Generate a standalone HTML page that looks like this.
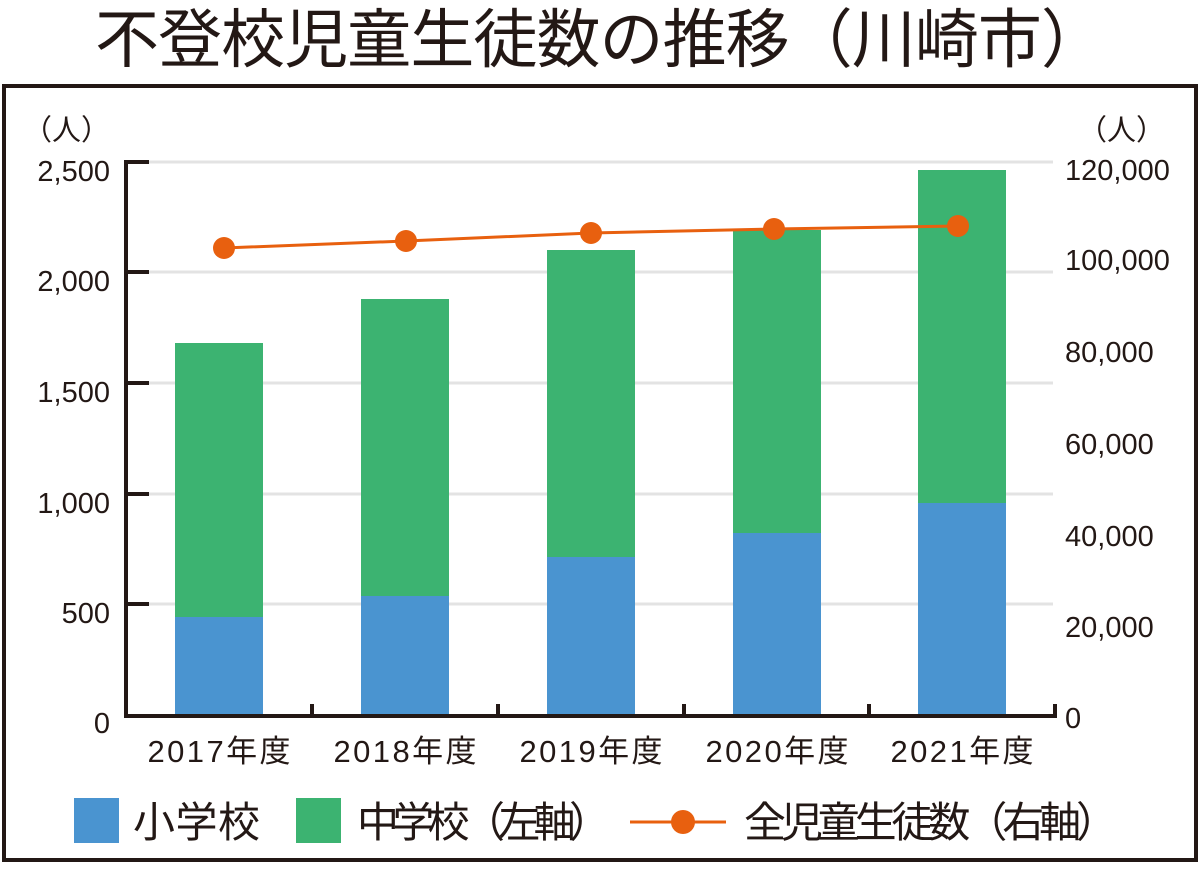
<!DOCTYPE html>
<html><head><meta charset="utf-8"><style>
body{margin:0;background:#fff;width:1200px;height:864px;overflow:hidden}
text{font-family:"Liberation Sans","Noto Sans CJK JP",sans-serif;fill:#231815}
</style></head><body>
<svg width="1200" height="864" viewBox="0 0 1200 864">
<text x="600" y="62" font-size="64" text-anchor="middle" textLength="1010" font-weight="normal">不登校児童生徒数の推移（川崎市）</text>
<rect x="4" y="86" width="1192" height="774" fill="none" stroke="#231815" stroke-width="4"/>
<g stroke="#e3e3e3" stroke-width="3">
<line x1="149" y1="162" x2="1053" y2="162"/><line x1="149" y1="272" x2="1053" y2="272"/>
<line x1="149" y1="383" x2="1053" y2="383"/><line x1="149" y1="494" x2="1053" y2="494"/>
<line x1="149" y1="604" x2="1053" y2="604"/>
</g>
<g fill="#4a94d0">
<rect x="175" y="617" width="88" height="98"/><rect x="361" y="596" width="88" height="119"/>
<rect x="547" y="557" width="88" height="158"/><rect x="733" y="533" width="88" height="182"/>
<rect x="918" y="503" width="88" height="212"/>
</g>
<g fill="#3cb371">
<rect x="175" y="343" width="88" height="274"/><rect x="361" y="299" width="88" height="297"/>
<rect x="547" y="250" width="88" height="307"/><rect x="733" y="230" width="88" height="303"/>
<rect x="918" y="170" width="88" height="333"/>
</g>
<g stroke="#231815" stroke-width="4" fill="none">
<polyline points="149,162 126,162 126,716 1055,716 1055,704"/>
<line x1="126" y1="272" x2="149" y2="272"/><line x1="126" y1="383" x2="149" y2="383"/>
<line x1="126" y1="494" x2="149" y2="494"/><line x1="126" y1="604" x2="149" y2="604"/>
<line x1="312" y1="716" x2="312" y2="704"/><line x1="498" y1="716" x2="498" y2="704"/>
<line x1="684" y1="716" x2="684" y2="704"/><line x1="869" y1="716" x2="869" y2="704"/>
</g>
<polyline points="224,248 406,241 591,233 774,229 958,226" fill="none" stroke="#e8600f" stroke-width="3"/>
<g fill="#e8600f"><circle cx="224" cy="248" r="11"/><circle cx="406" cy="241" r="11"/><circle cx="591" cy="233" r="11"/><circle cx="774" cy="229" r="11"/><circle cx="958" cy="226" r="11"/></g>
<g font-size="29" text-anchor="end">
<text x="110" y="140">（人）</text>
<text x="110" y="181">2,500</text><text x="110" y="291">2,000</text><text x="110" y="402">1,500</text>
<text x="110" y="513">1,000</text><text x="110" y="623">500</text><text x="110" y="733">0</text>
</g>
<g font-size="29">
<text x="1078" y="140">（人）</text>
<text x="1065" y="180">120,000</text><text x="1065" y="270">100,000</text><text x="1065" y="362">80,000</text>
<text x="1065" y="454">60,000</text><text x="1065" y="546">40,000</text><text x="1065" y="637">20,000</text>
<text x="1065" y="728">0</text>
</g>
<g font-size="31" text-anchor="middle">
<text x="219" y="762" textLength="143">2017年度</text><text x="405" y="762" textLength="143">2018年度</text><text x="591" y="762" textLength="143">2019年度</text>
<text x="777" y="762" textLength="143">2020年度</text><text x="962" y="762" textLength="143">2021年度</text>
</g>
<rect x="74" y="798" width="45" height="45" fill="#4a94d0"/>
<rect x="296" y="798" width="45" height="45" fill="#3cb371"/>
<line x1="630" y1="822" x2="726" y2="822" stroke="#e8600f" stroke-width="3"/>
<circle cx="683" cy="822" r="12" fill="#e8600f"/>
<g font-size="42">
<text x="133" y="837" textLength="127">小学校</text>
<text x="357" y="837" textLength="254">中学校（左軸）</text>
<text x="744" y="837" textLength="374">全児童生徒数（右軸）</text>
</g>
</svg>
</body></html>
